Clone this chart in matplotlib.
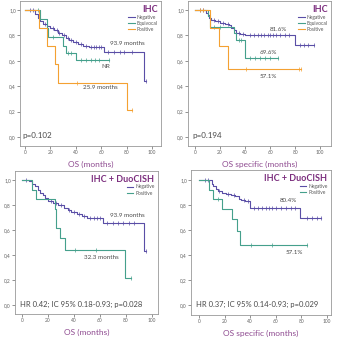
import numpy as np
import matplotlib
matplotlib.use("Agg")
import matplotlib.pyplot as plt
import matplotlib.ticker as ticker

plt.rcParams["font.family"] = ["Lato", "DejaVu Sans"]

NEG_C = "#5a4ea6"
EQV_C = "#45a08c"
POS_C = "#f4a132"
TITLE_C = "#7b2d7d"
XLAB_C = "#8e4a90"
TXT_C = "#4a4a4a"

# ── Panel 1: OS, IHC ─────────────────────────────────────────────────────────
os_neg_t = [0, 8, 10, 12, 14, 17, 20, 23, 26, 29, 32, 35, 38, 42, 46, 50, 62, 94]
os_neg_s = [1.0, 0.97, 0.94, 0.91, 0.89, 0.875, 0.86, 0.84, 0.82, 0.80, 0.78,
            0.76, 0.75, 0.73, 0.72, 0.71, 0.67, 0.44]
os_neg_end = 95
os_neg_cens = [4, 6, 16, 22, 25, 27, 31, 34, 36, 40, 44, 48, 52, 54, 56, 58,
               60, 65, 70, 75, 78, 84, 95]

os_eqv_t = [0, 12, 17, 18, 30, 32, 40]
os_eqv_s = [1.0, 0.93, 0.86, 0.79, 0.72, 0.66, 0.61]
os_eqv_end = 66
os_eqv_cens = [10, 22, 34, 36, 44, 48, 52, 55, 58, 66]

os_pos_t = [0, 11, 17, 24, 25.9, 80]
os_pos_s = [1.0, 0.857, 0.714, 0.571, 0.429, 0.214]
os_pos_end = 84
os_pos_cens = [41, 84]

# ── Panel 2: OS specific, IHC ────────────────────────────────────────────────
ss_neg_t = [0, 9, 10, 11, 13, 16, 20, 24, 27, 29, 31, 33, 36, 40, 80]
ss_neg_s = [1.0, 0.98, 0.96, 0.94, 0.92, 0.91, 0.90, 0.89, 0.88, 0.86, 0.84,
            0.82, 0.81, 0.805, 0.725]
ss_neg_end = 95
ss_neg_cens = [4, 6, 15, 18, 22, 26, 35, 38, 44, 47, 50, 53, 55, 58, 60, 62,
               65, 68, 72, 75, 84, 87, 90, 95]

ss_eqv_t = [0, 10, 12, 31, 33, 40]
ss_eqv_s = [1.0, 0.95, 0.87, 0.82, 0.76, 0.62]
ss_eqv_end = 66
ss_eqv_cens = [15, 20, 35, 37, 44, 48, 52, 56, 60, 66]

ss_pos_t = [0, 12, 19, 26]
ss_pos_s = [1.0, 0.857, 0.714, 0.536]
ss_pos_end = 85
ss_pos_cens = [4, 6, 41, 83, 85]

# ── Panel 3: OS, IHC + DuoCISH ───────────────────────────────────────────────
dos_neg_t = [0, 5, 8, 10, 12, 14, 16, 18, 20, 24, 28, 32, 35, 38, 42, 46, 50,
             62, 94]
dos_neg_s = [1.0, 0.99, 0.97, 0.95, 0.92, 0.90, 0.88, 0.86, 0.83, 0.815, 0.80,
             0.78, 0.76, 0.745, 0.73, 0.715, 0.70, 0.66, 0.435]
dos_neg_end = 95
dos_neg_cens = [3, 22, 26, 30, 36, 40, 44, 48, 52, 55, 58, 60, 65, 70, 74, 78,
                82, 86, 95]

dos_pos_t = [0, 8, 11, 25, 26.5, 29, 33, 79]
dos_pos_s = [1.0, 0.923, 0.846, 0.769, 0.615, 0.538, 0.44, 0.22]
dos_pos_end = 84
dos_pos_cens = [41, 57, 84]

# ── Panel 4: OS specific, IHC + DuoCISH ──────────────────────────────────────
dss_neg_t = [0, 10, 11, 13, 15, 18, 21, 25, 28, 31, 33, 36, 40, 79]
dss_neg_s = [1.0, 0.97, 0.95, 0.93, 0.91, 0.90, 0.89, 0.88, 0.87, 0.85, 0.84,
             0.83, 0.78, 0.70]
dss_neg_end = 95
dss_neg_cens = [5, 7, 16, 23, 27, 35, 38, 43, 46, 49, 52, 55, 57, 60, 64, 68,
                72, 75, 84, 88, 92, 95]

dss_pos_t = [0, 8, 11, 18, 26, 30, 32]
dss_pos_s = [1.0, 0.923, 0.846, 0.769, 0.692, 0.59, 0.48]
dss_pos_end = 84
dss_pos_cens = [15, 41, 57, 84]

x_ticks = [0, 20, 40, 60, 80, 100]
y_ticks = [0.0, 0.2, 0.4, 0.6, 0.8, 1.0]

W, H = 337, 339


def surv_at(times, surv, t):
    i = np.searchsorted(times, t, side="right") - 1
    return surv[i]


def draw_curve(ax, times, surv, end, cens, color, label):
    x = list(times) + [end]
    y = list(surv) + [surv[-1]]
    ax.step(x, y, where="post", color=color, lw=0.8, label=label)
    cy = [surv_at(times, surv, c) for c in cens]
    ax.plot(cens, cy, ls="none", marker="|", ms=2.2, mew=0.5, color=color)


def make_axes(fig, box, xlim, ylim):
    l, t, r, b = box
    ax = fig.add_axes([l / W, (H - b) / H, (r - l) / W, (b - t) / H])
    ax.set_xlim(*xlim)
    ax.set_ylim(*ylim)
    ax.set_xticks(x_ticks)
    ax.set_yticks(y_ticks)
    ax.yaxis.set_major_formatter(ticker.FuncFormatter(
        lambda v, _: f"{v:.1f}".replace(".", ",")))
    ax.tick_params(labelsize=3.5, colors="#666666", length=2, width=0.5, pad=1)
    for spine in ax.spines.values():
        spine.set_edgecolor("#999999")
        spine.set_linewidth(0.6)
    return ax


def title_legend(ax, title):
    ax.text(0.975, 0.975, title, transform=ax.transAxes, ha="right", va="top",
            fontsize=6.5, fontweight="bold", color=TITLE_C)
    ax.legend(loc="upper right", bbox_to_anchor=(1.0, 0.93), fontsize=3.5,
              frameon=False, handlelength=1.3, handletextpad=0.4,
              labelspacing=0.25, borderaxespad=0.3, labelcolor="#555555")


fig = plt.figure(figsize=(W / 100, H / 100), dpi=100)
fig.patch.set_facecolor("white")

# Panel 1
ax1 = make_axes(fig, (20, 1, 161, 146), (-3.9, 107), (-0.071, 1.071))
draw_curve(ax1, os_neg_t, os_neg_s, os_neg_end, os_neg_cens, NEG_C, "Negative")
draw_curve(ax1, os_eqv_t, os_eqv_s, os_eqv_end, os_eqv_cens, EQV_C, "Equivocal")
draw_curve(ax1, os_pos_t, os_pos_s, os_pos_end, os_pos_cens, POS_C, "Positive")
title_legend(ax1, "IHC")
ax1.text(67, 0.735, "93.9 months", fontsize=4.5, color=TXT_C, va="center")
ax1.text(60, 0.555, "NR", fontsize=4.5, color=TXT_C, va="center")
ax1.text(46, 0.39, "25.9 months", fontsize=4.5, color=TXT_C, va="center")
ax1.text(-2, 0.015, "p=0.102", fontsize=5.8, color=TXT_C, va="center")
ax1.set_xlabel("OS (months)", fontsize=6, color=XLAB_C, labelpad=4)

# Panel 2
ax2 = make_axes(fig, (188, 1, 331, 146), (-5.6, 108.7), (-0.071, 1.071))
draw_curve(ax2, ss_neg_t, ss_neg_s, ss_neg_end, ss_neg_cens, NEG_C, "Negative")
draw_curve(ax2, ss_eqv_t, ss_eqv_s, ss_eqv_end, ss_eqv_cens, EQV_C, "Equivocal")
draw_curve(ax2, ss_pos_t, ss_pos_s, ss_pos_end, ss_pos_cens, POS_C, "Positive")
title_legend(ax2, "IHC")
ax2.text(60, 0.85, "81.6%", fontsize=4.5, color=TXT_C, va="center")
ax2.text(52, 0.667, "69.6%", fontsize=4.5, color=TXT_C, va="center")
ax2.text(52, 0.48, "57.1%", fontsize=4.5, color=TXT_C, va="center")
ax2.text(-2.5, 0.015, "p=0.194", fontsize=5.8, color=TXT_C, va="center")
ax2.set_xlabel("OS specific (months)", fontsize=6, color=XLAB_C, labelpad=4)

# Panel 3
ax3 = make_axes(fig, (15, 171, 158, 314), (-5.4, 104.6), (-0.072, 1.072))
draw_curve(ax3, dos_neg_t, dos_neg_s, dos_neg_end, dos_neg_cens, NEG_C, "Negative")
draw_curve(ax3, dos_pos_t, dos_pos_s, dos_pos_end, dos_pos_cens, EQV_C, "Positive")
title_legend(ax3, "IHC + DuoCISH")
ax3.text(68, 0.713, "93.9 months", fontsize=4.5, color=TXT_C, va="center")
ax3.text(48, 0.377, "32.3 months", fontsize=4.5, color=TXT_C, va="center")
ax3.text(-1.5, 0.005, "HR 0.42; IC 95% 0.18-0.93; p=0.028", fontsize=5.5,
         color=TXT_C, va="center")
ax3.set_xlabel("OS (months)", fontsize=6, color=XLAB_C, labelpad=4)

# Panel 4
ax4 = make_axes(fig, (191, 170, 331, 315), (-6.25, 103.1), (-0.08, 1.08))
draw_curve(ax4, dss_neg_t, dss_neg_s, dss_neg_end, dss_neg_cens, NEG_C, "Negative")
draw_curve(ax4, dss_pos_t, dss_pos_s, dss_pos_end, dss_pos_cens, EQV_C, "Positive")
title_legend(ax4, "IHC + DuoCISH")
ax4.text(63, 0.84, "80.4%", fontsize=4.5, color=TXT_C, va="center")
ax4.text(68, 0.42, "57.1%", fontsize=4.5, color=TXT_C, va="center")
ax4.text(-2, 0.005, "HR 0.37; IC 95% 0.14-0.93; p=0.029", fontsize=5.5,
         color=TXT_C, va="center")
ax4.set_xlabel("OS specific (months)", fontsize=6, color=XLAB_C, labelpad=4)

fig.savefig("out.png", dpi=100, facecolor=fig.get_facecolor())
